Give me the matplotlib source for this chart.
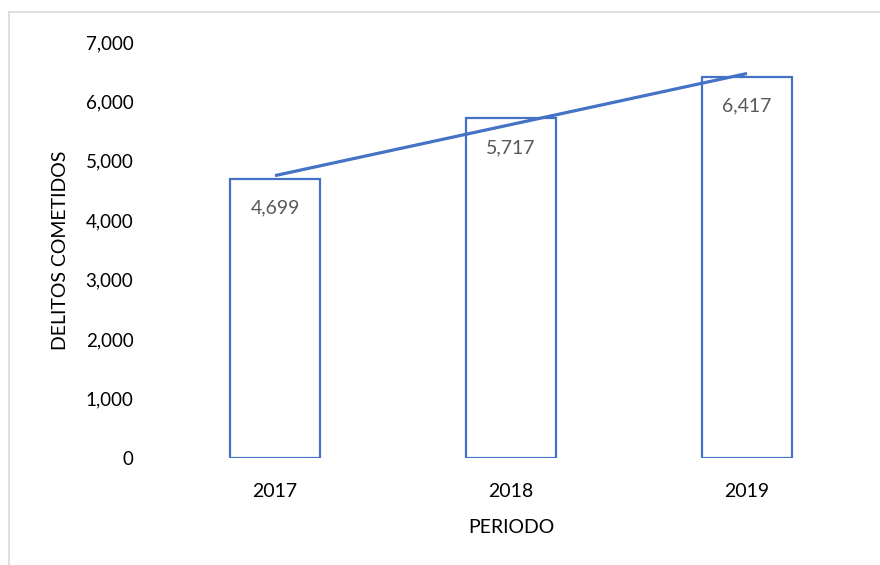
import matplotlib
matplotlib.use("Agg")
import matplotlib.pyplot as plt
from matplotlib.lines import Line2D
from matplotlib.ticker import FuncFormatter
import numpy as np

plt.rcParams['font.family'] = ['Lato', 'DejaVu Sans']

years = ["2017", "2018", "2019"]
delitos = [4699, 5717, 6417]
yticks = [0, 1000, 2000, 3000, 4000, 5000, 6000, 7000]

blue = "#4472C4"

fig = plt.figure(figsize=(8.8, 5.65), dpi=100)
ax = fig.add_axes([157/880, 107/565, 708/880, 416/565])

x = np.arange(len(years))
ax.bar(x, delitos, width=0.38, facecolor="white", edgecolor=blue, linewidth=1.6, zorder=2)

# linear trendline
coef = np.polyfit(x, delitos, 1)
ax.plot([x[0], x[-1]], np.polyval(coef, [x[0], x[-1]]), color=blue, linewidth=2.3, zorder=3,
        solid_capstyle="butt")

for xi, v in zip(x, delitos):
    ax.annotate(f"{v:,}", (xi, v), xytext=(0, -21), textcoords="offset points",
                ha="center", va="center", fontsize=14, color="#595959", zorder=4)

ax.set_xlim(-0.5, len(years) - 0.5)
ax.set_ylim(0, 7000)
ax.set_xticks(x)
ax.set_xticklabels(years)
ax.set_yticks(yticks)
ax.yaxis.set_major_formatter(FuncFormatter(lambda v, p: f"{int(v):,}"))
ax.tick_params(axis="y", length=0, pad=17, labelsize=13.5)
ax.tick_params(axis="x", length=0, pad=18, labelsize=14)
for s in ax.spines.values():
    s.set_visible(False)

ax.set_ylabel("DELITOS COMETIDOS", fontsize=14, labelpad=12)
ax.set_xlabel("PERIODO", fontsize=14, labelpad=14)

# outer frame lines (left and top visible)
fig.add_artist(Line2D([9/880, 9/880], [0, 1 - 12/565], transform=fig.transFigure, color="#d9d9d9", lw=1.2))
fig.add_artist(Line2D([9/880, 1], [1 - 12/565, 1 - 12/565], transform=fig.transFigure, color="#d9d9d9", lw=1.2))

fig.savefig("out.png", dpi=100)
